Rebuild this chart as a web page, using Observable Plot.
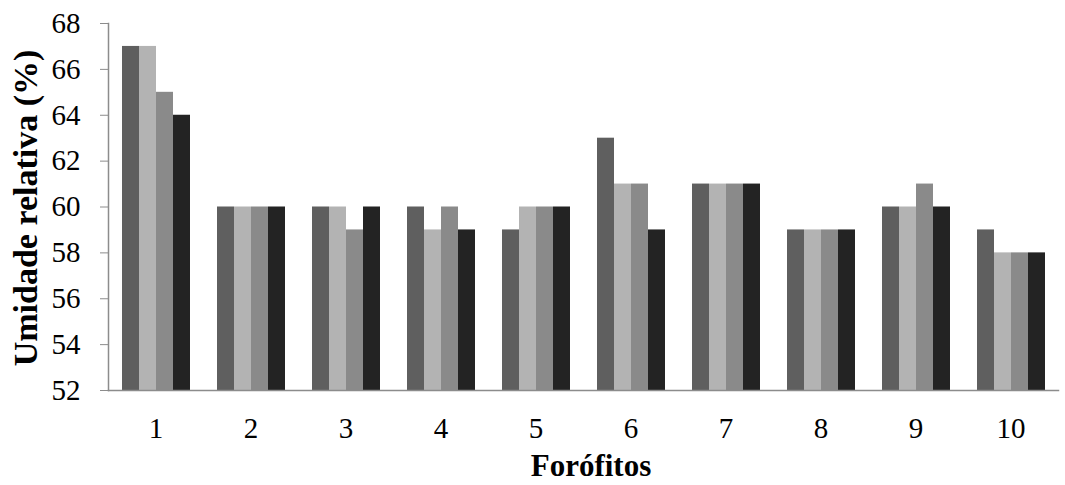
<!DOCTYPE html>
<html>
<head>
<meta charset="utf-8">
<script src="https://cdn.jsdelivr.net/npm/d3@7"></script>
<script src="https://cdn.jsdelivr.net/npm/@observablehq/plot@0.6"></script>
<style>
  html, body { margin: 0; padding: 0; background: #fff; }
</style>
</head>
<body>
<div id="chart"></div>
<script>
const categories = ["1", "2", "3", "4", "5", "6", "7", "8", "9", "10"];
const series = ["S1", "S2", "S3", "S4"];
const s1 = [67, 60, 60, 60, 59, 63, 61, 59, 60, 59];
const s2 = [67, 60, 60, 59, 60, 61, 61, 59, 60, 58];
const s3 = [65, 60, 59, 60, 60, 61, 61, 59, 61, 58];
const s4 = [64, 60, 60, 59, 60, 59, 61, 59, 60, 58];
const colors = ["#5f5f5f", "#b3b3b3", "#8a8a8a", "#232323"];
const yTicks = [52, 54, 56, 58, 60, 62, 64, 66, 68];
const yLabel = "Umidade relativa (%)";
const xLabel = "Forófitos";

const seriesValues = [s1, s2, s3, s4];
const data = categories.flatMap((c, i) =>
  series.map((s, j) => ({cat: c, series: s, value: seriesValues[j][i]}))
);

const serif = "'Liberation Serif', 'Times New Roman', Times, serif";

const chart = Plot.plot({
  width: 1065,
  height: 485,
  marginLeft: 108,
  marginRight: 7,
  marginTop: 23,
  marginBottom: 95,
  style: {background: "#fff", color: "#000", fontFamily: serif},
  fx: {domain: categories, padding: 0, label: null},
  x: {domain: series, paddingInner: 0, paddingOuter: 0.7026, axis: null},
  y: {domain: [52, 68]},
  color: {domain: series, range: colors},
  marks: [
    Plot.barY(data, {fx: "cat", x: "series", y1: 52, y2: "value", fill: "series"}),
    Plot.frame({anchor: "left", stroke: "#8c8c8c", strokeWidth: 1.5, facet: "super"}),
    Plot.frame({anchor: "bottom", stroke: "#8c8c8c", strokeWidth: 1.5, facet: "super"}),
    Plot.axisY({ticks: yTicks, tickSize: 8, tickPadding: 20, label: null, stroke: "#8c8c8c", fill: "#000", fontSize: 29, fontFamily: serif}),
    Plot.axisFx({anchor: "bottom", tickSize: 0, tickPadding: 27, label: null, fill: "#000", fontSize: 29, fontFamily: serif})
  ]
});
document.getElementById("chart").appendChild(chart);

const svg = d3.select(chart);
svg.append("text")
  .attr("transform", "translate(25,208) rotate(-90)")
  .attr("text-anchor", "middle")
  .attr("dy", "0.35em")
  .attr("font-family", serif)
  .attr("font-size", 34)
  .attr("font-weight", "bold")
  .attr("fill", "#000")
  .text(yLabel);
svg.append("text")
  .attr("x", 591)
  .attr("y", 476)
  .attr("text-anchor", "middle")
  .attr("font-family", serif)
  .attr("font-size", 31)
  .attr("font-weight", "bold")
  .attr("fill", "#000")
  .text(xLabel);
</script>
</body>
</html>
